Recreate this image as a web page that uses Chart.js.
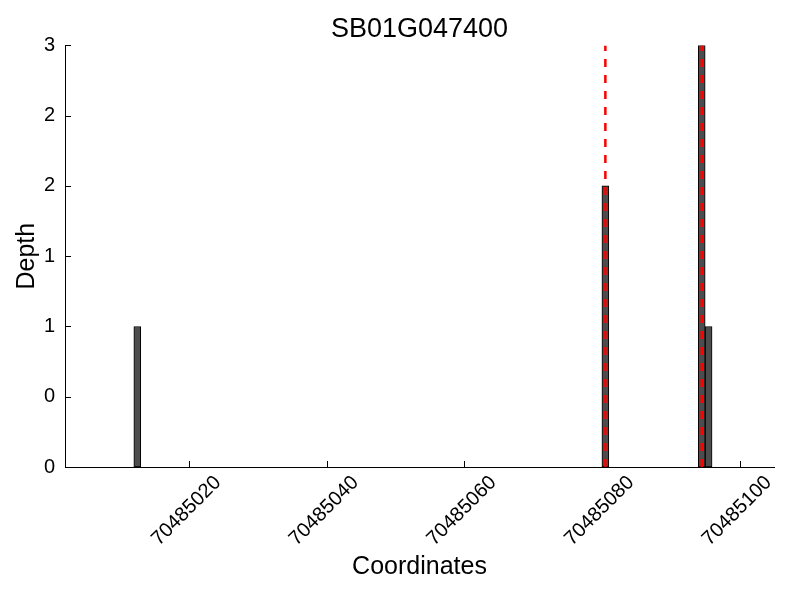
<!DOCTYPE html>
<html>
<head>
<meta charset="utf-8">
<title>SB01G047400</title>
<script src="https://cdn.jsdelivr.net/npm/chart.js@4/dist/chart.umd.min.js"></script>
<style>
  html, body { margin: 0; padding: 0; background: #fff; }
  #depthChart { display: block; }
</style>
</head>
<body>
<canvas id="depthChart" width="800" height="600"></canvas>
<script>
/* ─────────────────────────────────────────────
   DATA
───────────────────────────────────────────── */
const binStarts      = [70485012, 70485080, 70485094, 70485095];   // left edge of each 1bp bin
const depths         = [1, 2, 3, 1];
const markerPositions = [70485080.5, 70485094.5];                  // red dashed lines
const xTicks         = [70485020, 70485040, 70485060, 70485080, 70485100];
const yTicks         = [0, 0.5, 1, 1.5, 2, 2.5, 3];
const yTickLabels    = ['0', '0', '1', '1', '2', '2', '3'];
const xMin = 70485002, xMax = 70485105;
const yMin = 0, yMax = 3;

/* ─────────────────────────────────────────────
   HELPERS
───────────────────────────────────────────── */
const FONT = '"Liberation Sans", Arial, sans-serif';

// matplotlib style ticks pointing into the plot
const inwardTicks = {
  id: 'inwardTicks',
  beforeDatasetsDraw(chart) {
    const { ctx, chartArea, scales: { x, y } } = chart;
    ctx.save();
    ctx.strokeStyle = '#000';
    ctx.lineWidth = 1;
    ctx.beginPath();
    x.ticks.forEach((t) => {
      const px = Math.round(x.getPixelForValue(t.value)) + 0.5;
      ctx.moveTo(px, chartArea.bottom);
      ctx.lineTo(px, chartArea.bottom - 6);
    });
    y.ticks.forEach((t) => {
      const py = Math.round(y.getPixelForValue(t.value)) + 0.5;
      ctx.moveTo(chartArea.left, py);
      ctx.lineTo(chartArea.left + 6, py);
    });
    ctx.stroke();
    ctx.restore();
  },
};

const markerDatasets = markerPositions.map((pos) => ({
  type: 'line',
  data: [{ x: pos, y: yMin }, { x: pos, y: yMax }],
  borderColor: '#f00',
  borderWidth: 2.5,
  borderDash: [8, 8],
  pointRadius: 0,
  order: 0,
}));

/* ─────────────────────────────────────────────
   CHART
───────────────────────────────────────────── */
new Chart(document.getElementById('depthChart'), {
  type: 'bar',
  data: {
    datasets: [
      ...markerDatasets,
      {
        type: 'bar',
        data: binStarts.map((s, i) => ({ x: s + 0.5, y: depths[i] })),
        backgroundColor: '#4d4d4d',
        borderColor: '#000',
        borderWidth: 1,
        borderSkipped: false,
        barPercentage: 1,
        categoryPercentage: 1,
        order: 1,
      },
    ],
  },
  options: {
    responsive: false,
    animation: false,
    devicePixelRatio: 1,
    layout: { padding: { top: 0, right: 26, bottom: 0, left: 0 } },
    plugins: {
      legend: { display: false },
      tooltip: { enabled: false },
      title: {
        display: true,
        text: 'SB01G047400',
        color: '#000',
        fullSize: false,
        font: { family: FONT, size: 27, weight: 'normal' },
        padding: { top: 13, bottom: 0 },
      },
    },
    scales: {
      x: {
        type: 'linear',
        min: xMin,
        max: xMax,
        offset: false,
        afterBuildTicks: (scale) => { scale.ticks = xTicks.map((value) => ({ value })); },
        afterFit: (scale) => { scale.height = 133; },
        grid: { display: false, drawTicks: false, offset: false },
        border: { display: true, color: '#000', width: 1 },
        ticks: {
          autoSkip: false,
          minRotation: 45,
          maxRotation: 45,
          padding: 4,
          labelOffset: 29,
          color: '#000',
          font: { family: FONT, size: 20 },
          callback: (value) => String(value),
        },
        title: {
          display: true,
          text: 'Coordinates',
          color: '#000',
          font: { family: FONT, size: 25 },
          padding: { top: 0, bottom: 18 },
        },
      },
      y: {
        type: 'linear',
        min: yMin,
        max: yMax,
        afterBuildTicks: (scale) => { scale.ticks = yTicks.map((value) => ({ value })); },
        afterFit: (scale) => { scale.width = 65; },
        grid: { display: false, drawTicks: false },
        border: { display: true, color: '#000', width: 1 },
        ticks: {
          padding: 10,
          color: '#000',
          font: { family: FONT, size: 20 },
          callback: (value, index) => yTickLabels[index],
        },
        title: {
          display: true,
          text: 'Depth',
          color: '#000',
          font: { family: FONT, size: 25 },
          padding: { top: 12, bottom: 0 },
        },
      },
    },
  },
  plugins: [inwardTicks],
});
</script>
</body>
</html>
